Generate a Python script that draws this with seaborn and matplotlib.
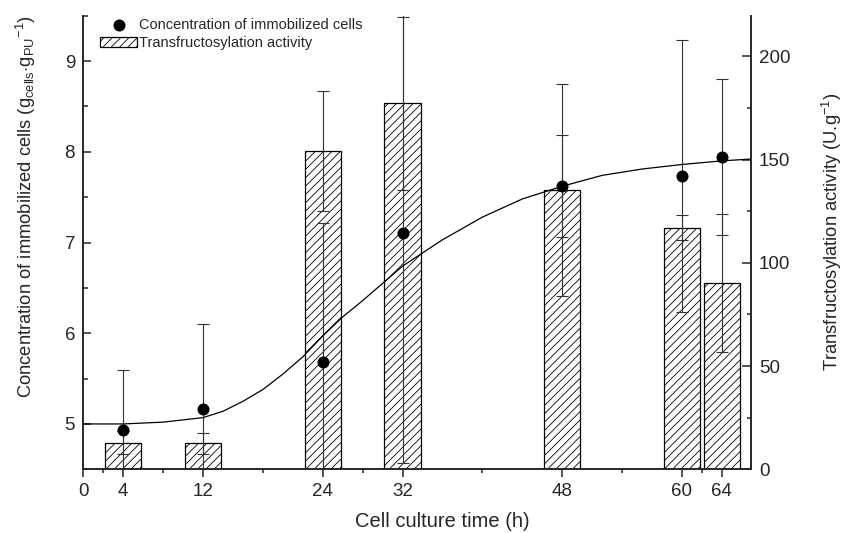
import matplotlib
matplotlib.use("Agg")
import matplotlib.pyplot as plt
from matplotlib.ticker import MultipleLocator, FixedLocator
import seaborn as sns

# culture time (h)
hours = [4, 12, 24, 32, 48, 60, 64]
# concentration of immobilized cells (left axis)
conc = [4.93, 5.17, 5.68, 7.10, 7.62, 7.73, 7.94]
conc_err = [0.66, 0.93, 1.54, 2.53, 0.56, 1.50, 0.86]
# transfructosylation activity (right axis)
activity = [12.9, 12.6, 154.1, 177.2, 135.3, 117.0, 90.4]
activity_err = [5.5, 5.0, 29.2, 41.8, 51.3, 6.0, 33.4]

# sigmoid fit line
fit_x = [0, 4, 8, 12, 14, 16, 18, 20, 22, 24, 26, 28, 30, 32, 36, 40, 44, 48, 52, 56, 60, 64, 66.9]
fit_y = [5.00, 5.00, 5.02, 5.07, 5.14, 5.25, 5.38, 5.55, 5.74, 5.97, 6.18, 6.36, 6.55, 6.74,
         7.03, 7.28, 7.48, 7.62, 7.74, 7.81, 7.86, 7.90, 7.92]

major_x = [0, 4, 12, 24, 32, 48, 60, 64]
minor_x = [2, 8, 18, 28, 40, 54, 62]

sns.set_style("ticks")
plt.rcParams["font.family"] = ["Liberation Sans", "DejaVu Sans"]
plt.rcParams["mathtext.fontset"] = "custom"
plt.rcParams["mathtext.rm"] = "Liberation Sans"
plt.rcParams["mathtext.it"] = "Liberation Sans:italic"
plt.rcParams["hatch.linewidth"] = 0.6
plt.rcParams["axes.linewidth"] = 1.2

fig = plt.figure(figsize=(8.45, 5.33), dpi=100)
ax = fig.add_axes([0.0987, 0.1195, 0.7897, 0.851])
ax2 = ax.twinx()
ax.set_zorder(ax2.get_zorder() + 1)
ax.patch.set_visible(False)

# bars -> right axis
sns.barplot(x=hours, y=activity, ax=ax2, native_scale=True, orient="x", width=0.91,
            color="white", edgecolor="black", linewidth=0.9, hatch="////", errorbar=None,
            label="Transfructosylation activity")
ax2.errorbar(hours, activity, yerr=activity_err, fmt="none", ecolor="#333333",
             elinewidth=0.8, capsize=4.5, capthick=0.8)

# cells + fit -> left axis
ax.errorbar(hours, conc, yerr=conc_err, fmt="none", ecolor="#333333",
            elinewidth=0.8, capsize=4.5, capthick=0.8, zorder=2)
sns.lineplot(x=fit_x, y=fit_y, ax=ax, color="black", linewidth=0.9,
             estimator=None, sort=False, zorder=3)
sns.scatterplot(x=hours, y=conc, ax=ax, color="black", s=75, linewidth=0, zorder=4,
                label="Concentration of immobilized cells")

for a in (ax, ax2):
    if a.get_legend() is not None:
        a.get_legend().remove()
    a.spines["top"].set_visible(False)

ax.set_xlim(0, 66.9)
ax.xaxis.set_major_locator(FixedLocator(major_x))
ax.xaxis.set_minor_locator(FixedLocator(minor_x))
ax.tick_params(axis="x", which="major", direction="out", length=6, width=1.1,
               labelsize=13.5, pad=4)
ax.tick_params(axis="x", which="minor", direction="out", length=3, width=1.1)

ax.set_ylim(4.5, 9.5)
ax.yaxis.set_major_locator(MultipleLocator(1))
ax.yaxis.set_minor_locator(MultipleLocator(0.5))
ax.tick_params(axis="y", which="major", direction="in", length=6, width=1.1,
               labelsize=13.5, pad=6)
ax.tick_params(axis="y", which="minor", direction="in", length=3.5, width=1.1)

ax2.set_ylim(0, 219.7)
ax2.yaxis.set_major_locator(MultipleLocator(50))
ax2.yaxis.set_minor_locator(MultipleLocator(25))
ax2.tick_params(axis="y", which="major", direction="in", length=6.5, width=1.1,
                labelsize=13.5, pad=6)
ax2.tick_params(axis="y", which="minor", direction="in", length=3, width=1.1)

ax.set_xlabel("Cell culture time (h)", fontsize=14.5)
ax.xaxis.set_label_coords(0.5385, -0.094)
ax.set_ylabel(r"Concentration of immobilized cells (g$_{\mathrm{cells}}$$\cdot$g$_{\mathrm{PU}}$$^{\mathrm{-1}}$)",
              fontsize=13.2)
ax.yaxis.set_label_coords(-0.068, 0.58)
ax2.set_ylabel(r"Transfructosylation activity (U.g$^{\mathrm{-1}}$)", fontsize=13.2)
ax2.yaxis.set_label_coords(1.104, 0.524)

h1, l1 = ax.get_legend_handles_labels()
h2, l2 = ax2.get_legend_handles_labels()
ax.legend(h1 + h2, l1 + l2, loc="upper left", bbox_to_anchor=(0.025, 0.996), frameon=False,
          fontsize=10.5, handlelength=2.55, handletextpad=0.15, labelspacing=0.32,
          borderpad=0, borderaxespad=0)

fig.savefig("out.png", dpi=100)
